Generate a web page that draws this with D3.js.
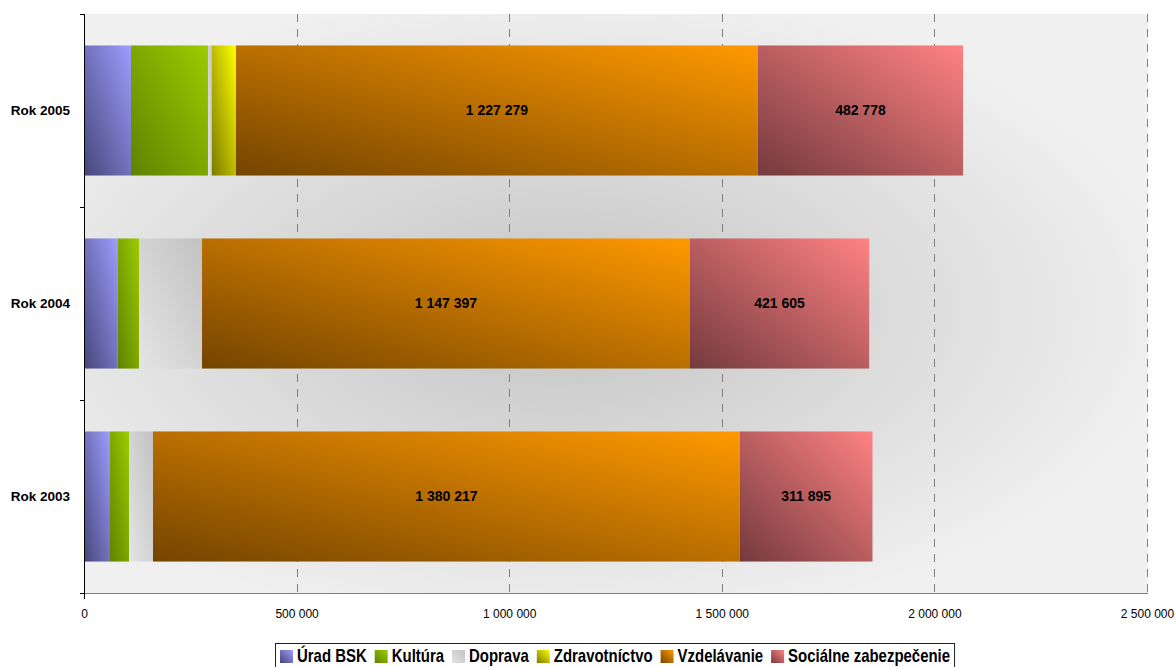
<!DOCTYPE html>
<html>
<head>
<meta charset="utf-8">
<script src="https://cdn.jsdelivr.net/npm/d3@7"></script>
<style>
	body{margin:0;background:#fff;}
	svg{display:block;font-family:"Liberation Sans",Arial,sans-serif;}
</style>
</head>
<body>
<div id="chart"></div>
<script>
var years = ["Rok 2005","Rok 2004","Rok 2003"];
var seriesNames = ["Úrad BSK","Kultúra","Doprava","Zdravotníctvo","Vzdelávanie","Sociálne zabezpečenie"];
var urad = [110500, 79300, 61200];
var kultura = [181100, 50100, 44700];
var doprava = [9000, 148200, 56400];
var zdravotnictvo = [56800, 0, 0];
var vzdelavanie = [1227279, 1147397, 1380217];
var socialne = [482778, 421605, 311895];
var xTicks = [0, 500000, 1000000, 1500000, 2000000, 2500000];
var labeledSeries = ["Vzdelávanie","Sociálne zabezpečenie"];

var colors = {
	"Úrad BSK"				:["#46467a","#9d9dff"],
	"Kultúra"				:["#5f8200","#9ccc00"],
	"Doprava"				:["#e4e4e4","#c2c2c2"],
	"Zdravotníctvo"			:["#7a7a00","#ffff00"],
	"Vzdelávanie"			:["#744400","#ff9900"],
	"Sociálne zabezpečenie"	:["#743a3e","#ff8282"]
};

var width = 1176, height = 667;
var plot = {left:84, right:1147, top:14, bottom:593};

var values = [urad, kultura, doprava, zdravotnictvo, vzdelavanie, socialne];
var rows = years.map(function(y,i){
	var r = {year:y};
	seriesNames.forEach(function(s,j){ r[s] = values[j][i]; });
	return r;
});

var locale = d3.formatLocale({decimal:",", thousands:"\u00a0", grouping:[3], currency:["",""]});
var fmt = locale.format(",d");

var svg = d3.select("#chart").append("svg")
			.attr("width",width)
			.attr("height",height);

var defs = svg.append("defs");

// background shading of the plot area
var bg = defs.append("radialGradient")
			.attr("id","bgGrad")
			.attr("gradientUnits","userSpaceOnUse")
			.attr("cx",560).attr("cy",310).attr("r",620)
			.attr("gradientTransform","translate(560,310) scale(1,0.52) translate(-560,-310)");
bg.append("stop").attr("offset",0).attr("stop-color","#c4c4c4");
bg.append("stop").attr("offset",0.55).attr("stop-color","#dcdcdc");
bg.append("stop").attr("offset",1).attr("stop-color","#f0f0f0");

seriesNames.forEach(function(s,i){
	var g = defs.append("linearGradient")
				.attr("id","grad"+i)
				.attr("x1",0).attr("y1",1)
				.attr("x2",1).attr("y2",0);
	g.append("stop").attr("offset",0).attr("stop-color",colors[s][0]);
	g.append("stop").attr("offset",1).attr("stop-color",colors[s][1]);
});

var x = d3.scaleLinear()
			.domain([0,2500000])
			.range([plot.left,plot.right]);

var y = d3.scaleBand()
			.domain(years)
			.range([plot.top,plot.bottom])
			.paddingInner(0.326)
			.paddingOuter(0.163);

svg.append("rect")
	.attr("x",plot.left)
	.attr("y",plot.top)
	.attr("width",plot.right-plot.left+1)
	.attr("height",plot.bottom-plot.top)
	.attr("fill","url(#bgGrad)");

// dashed gridlines
svg.append("g")
	.selectAll("line")
	.data(xTicks.slice(1))
	.enter()
	.append("line")
	.attr("x1",function(d){return Math.round(x(d))+0.5;})
	.attr("x2",function(d){return Math.round(x(d))+0.5;})
	.attr("y1",plot.top)
	.attr("y2",plot.bottom)
	.attr("stroke","#7f7f7f")
	.attr("stroke-dasharray","8,7");

var stack = d3.stack().keys(seriesNames)(rows);

var layers = svg.append("g")
			.selectAll("g")
			.data(stack)
			.enter()
			.append("g")
			.attr("fill",function(d,i){return "url(#grad"+i+")";});

layers.selectAll("rect")
	.data(function(d){return d.filter(function(p){return p[1]-p[0]>0;});})
	.enter()
	.append("rect")
	.attr("x",function(d){return x(d[0]);})
	.attr("y",function(d){return y(d.data.year);})
	.attr("width",function(d){return x(d[1])-x(d[0]);})
	.attr("height",y.bandwidth());

// value labels on the two big segments
layers.filter(function(d){return labeledSeries.indexOf(d.key)>=0;})
	.selectAll("text")
	.data(function(d){return d.map(function(p){ return {p:p, v:p.data[d.key]}; });})
	.enter()
	.append("text")
	.attr("x",function(d){return (x(d.p[0])+x(d.p[1]))/2;})
	.attr("y",function(d){return y(d.p.data.year)+y.bandwidth()/2;})
	.attr("dy","0.35em")
	.attr("text-anchor","middle")
	.attr("fill","#000")
	.style("font-size","14px")
	.style("font-weight","bold")
	.text(function(d){return fmt(d.v);});

// x axis
var xAxis = svg.append("g")
			.attr("transform","translate(0,"+plot.bottom+")")
			.call(d3.axisBottom(x).tickValues(xTicks).tickSize(0).tickPadding(16).tickFormat(fmt));
xAxis.select(".domain").attr("stroke","#7f7f7f").attr("d","M"+(plot.left-4)+",0.5H"+(plot.right+1));
xAxis.selectAll("text").style("font-size","12px").attr("fill","#000").attr("font-family",null);

// y axis
var yTickPos = [plot.top, plot.top+y.step(), plot.top+2*y.step(), plot.bottom];
var yAxis = svg.append("g");
yAxis.append("line")
	.attr("x1",plot.left+0.5).attr("x2",plot.left+0.5)
	.attr("y1",plot.top).attr("y2",plot.bottom+6)
	.attr("stroke","#000");
yAxis.selectAll(".tk")
	.data(yTickPos)
	.enter()
	.append("line")
	.attr("x1",plot.left-4).attr("x2",plot.left)
	.attr("y1",function(d){return Math.round(d)+0.5;})
	.attr("y2",function(d){return Math.round(d)+0.5;})
	.attr("stroke","#000");
yAxis.selectAll("text")
	.data(years)
	.enter()
	.append("text")
	.attr("x",70)
	.attr("y",function(d){return y(d)+y.bandwidth()/2;})
	.attr("dy","0.35em")
	.attr("text-anchor","end")
	.style("font-size","13.5px")
	.style("font-weight","bold")
	.text(function(d){return d;});

// legend
var legend = svg.append("g");
var box = legend.append("rect")
			.attr("fill","#fff")
			.attr("stroke","#222");
var items = legend.selectAll("g")
			.data(seriesNames)
			.enter()
			.append("g");
items.append("rect")
	.attr("width",13)
	.attr("height",13)
	.attr("fill",function(d,i){return "url(#grad"+i+")";});
var labels = items.append("text")
	.attr("x",17)
	.attr("y",12)
	.style("font-family","'Liberation Sans Narrow','Arial Narrow',sans-serif")
	.style("font-size","17.5px")
	.style("font-weight","bold")
	.text(function(d){return d;});

// squeeze the text if no narrow face is installed
var probe = labels.nodes()[5].getComputedTextLength();
var squeeze = probe > 170 ? 162/probe : 1;
labels.attr("transform","translate(17,0) scale("+squeeze+",1) translate(-17,0)");

var pos = 0, offsets = [];
labels.each(function(){
	offsets.push(pos);
	pos += 17 + this.getComputedTextLength()*squeeze + 8;
});
var total = pos - 8;
var lx = Math.round((plot.left+plot.right)/2 - total/2);
items.attr("transform",function(d,i){return "translate("+(lx+offsets[i])+",650)";});
box.attr("x",lx-4.5).attr("y",643.5).attr("width",total+9).attr("height",30);
</script>
</body>
</html>
